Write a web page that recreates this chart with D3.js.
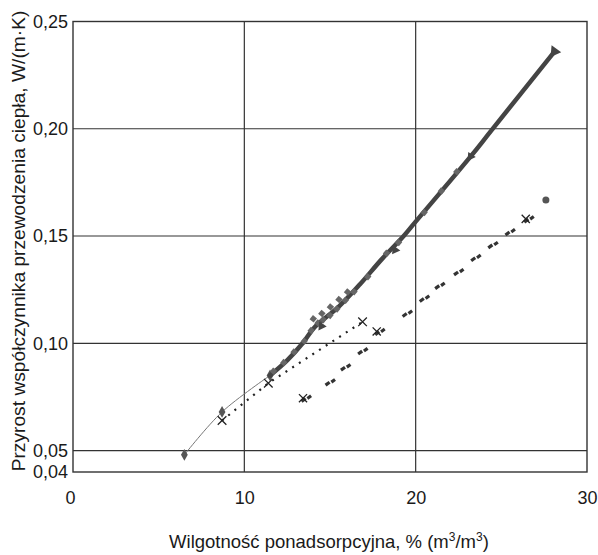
<!DOCTYPE html>
<html>
<head>
  <meta charset="utf-8">
  <title>Przyrost współczynnika przewodzenia ciepła</title>
  <script src="https://d3js.org/d3.v7.min.js"></script>
  <style>
    body { margin: 0; background: #fff; }
    text { font-family: "Liberation Sans", Arial, sans-serif; fill: #1a1a1a; }
  </style>
</head>
<body>
  <svg id="wykres"></svg>

  <script>
    // dane
    const rombyX = [6.5, 8.7, 11.5];
    const rombyY = [0.048, 0.068, 0.085];

    const pasX = [11.5, 12.5, 13.4, 14.1, 15.5, 16.75, 18.0, 19.3, 20.0, 23.2, 24.4, 28.1];
    const pasY = [0.085, 0.092, 0.100, 0.1075, 0.117, 0.1275, 0.139, 0.150, 0.1567, 0.187, 0.199, 0.236];

    const kwadratyX = [11.7, 12.3, 12.9, 13.5, 13.9, 14.3, 14.6, 15.0, 15.4, 15.9, 16.4, 17.2, 18.3, 19.0, 20.5, 21.5, 22.4,
                       14.2, 14.7, 15.2, 15.7, 16.2];
    const kwadratyY = [0.087, 0.091, 0.096, 0.101, 0.106, 0.1095, 0.111, 0.113, 0.116, 0.120, 0.124, 0.131, 0.142, 0.147, 0.161, 0.171, 0.180,
                       0.110, 0.1125, 0.1155, 0.119, 0.1225];

    const trojkatyX = [14.5, 18.8, 23.2, 28.1];
    const trojkatyY = [0.108, 0.1435, 0.187, 0.236];

    const krzyzykiX = [8.7, 11.4, 16.9];
    const krzyzykiY = [0.064, 0.0814, 0.110];

    const kreskiX = [13.6, 15.0, 15.9, 16.9, 17.9, 19.5, 20.5, 21.4, 22.5, 23.5, 24.5, 25.5, 26.6];
    const kreskiY = [0.0744, 0.082, 0.089, 0.0965, 0.1055, 0.114, 0.121, 0.127, 0.1334, 0.140, 0.146, 0.152, 0.158];
    const kreskiKrzyzykX = [13.6, 17.9, 26.6];
    const kreskiKrzyzykY = [0.0744, 0.1055, 0.158];
    const koloX = [27.6];
    const koloY = [0.1668];

    const ticksX = [0, 10, 20, 30];
    const ticksY = [0.04, 0.05, 0.10, 0.15, 0.20, 0.25];
    const siatkaX = [10, 20];
    const siatkaY = [0.05, 0.10, 0.15, 0.20];

    const W = 598, H = 555;
    const svg = d3.select("#wykres").attr("width", W).attr("height", H);

    const x = d3.scaleLinear().domain([0, 30]).range([73, 587]);
    const y = d3.scaleLinear().domain([0.04, 0.25]).range([472, 21.5]);

    const pary = (xs, ys) => xs.map((v, i) => [v, ys[i]]);
    const fmt = d => d3.format(".2f")(d).replace(".", ",");

    // siatka
    svg.append("g").selectAll("line").data(siatkaX).join("line")
      .attr("x1", d => x(d)).attr("x2", d => x(d))
      .attr("y1", y(0.25)).attr("y2", y(0.04))
      .attr("stroke", "#333").attr("stroke-width", 1.2);
    svg.append("g").selectAll("line").data(siatkaY).join("line")
      .attr("x1", x(0)).attr("x2", x(30))
      .attr("y1", d => y(d)).attr("y2", d => y(d))
      .attr("stroke", "#333").attr("stroke-width", 1.2);

    svg.append("rect")
      .attr("x", x(0)).attr("y", y(0.25))
      .attr("width", x(30) - x(0)).attr("height", y(0.04) - y(0.25))
      .attr("fill", "none").attr("stroke", "#333").attr("stroke-width", 1.4);

    // osie
    const osY = svg.append("g").attr("transform", `translate(${x(0)},0)`)
      .call(d3.axisLeft(y).tickValues(ticksY).tickFormat(fmt).tickSize(0).tickPadding(5));
    const osX = svg.append("g").attr("transform", `translate(0,${y(0.04)})`)
      .call(d3.axisBottom(x).tickValues(ticksX).tickFormat(d3.format("d")).tickSize(0).tickPadding(19));
    [osY, osX].forEach(o => {
      o.select(".domain").remove();
      o.selectAll("text").attr("font-size", 18).attr("fill", "#1a1a1a")
        .attr("font-family", "'Liberation Sans', Arial, sans-serif");
    });
    osX.selectAll("text").attr("dx", d => d === 0 ? -3 : 0);

    // tytuły osi
    svg.append("text")
      .attr("x", 329).attr("y", 548)
      .attr("text-anchor", "middle").attr("font-size", 18.5)
      .html('Wilgotność ponadsorpcyjna, % (m<tspan dy="-7" font-size="12">3</tspan><tspan dy="7">/m</tspan><tspan dy="-7" font-size="12">3</tspan><tspan dy="7">)</tspan>');

    svg.append("text")
      .attr("transform", `translate(25,241) rotate(-90)`)
      .attr("text-anchor", "middle").attr("font-size", 19.2)
      .text("Przyrost współczynnika przewodzenia ciepła, W/(m·K)");

    // seria z rombami (cienka linia)
    const linia = d3.line().x(d => x(d[0])).y(d => y(d[1])).curve(d3.curveCatmullRom);
    svg.append("path").datum(pary(rombyX, rombyY))
      .attr("d", linia).attr("fill", "none")
      .attr("stroke", "#777").attr("stroke-width", 1);
    svg.append("g").selectAll("path").data(pary(rombyX, rombyY)).join("path")
      .attr("d", d3.symbol(d3.symbolDiamond, 40))
      .attr("transform", d => `translate(${x(d[0])},${y(d[1])})`)
      .attr("fill", "#555");

    // seria krzyżyków z linią kropkowaną
    svg.append("path").datum(pary(krzyzykiX, krzyzykiY))
      .attr("d", d3.line().x(d => x(d[0])).y(d => y(d[1])))
      .attr("fill", "none").attr("stroke", "#222").attr("stroke-width", 2.2)
      .attr("stroke-dasharray", "2,6");
    svg.append("g").selectAll("path").data(pary(krzyzykiX, krzyzykiY)).join("path")
      .attr("d", d3.symbol(d3.symbolX, 50))
      .attr("transform", d => `translate(${x(d[0])},${y(d[1])})`)
      .attr("fill", "none").attr("stroke", "#222").attr("stroke-width", 1.3);

    // gruby pas głównej serii
    svg.append("path").datum(pary(pasX, pasY))
      .attr("d", d3.line().x(d => x(d[0])).y(d => y(d[1])).curve(d3.curveCatmullRom))
      .attr("fill", "none").attr("stroke", "#444").attr("stroke-width", 4.5)
      .attr("stroke-linecap", "round");
    svg.append("g").selectAll("path").data(pary(kwadratyX, kwadratyY)).join("path")
      .attr("d", d3.symbol(d3.symbolSquare, 28))
      .attr("transform", (d, i) => `translate(${x(d[0]) + (i > 16 ? -3 : 0)},${y(d[1]) + (i > 16 ? -3 : 0)}) rotate(40)`)
      .attr("fill", "#666");
    svg.append("g").selectAll("path").data(pary(trojkatyX, trojkatyY)).join("path")
      .attr("d", (d, i) => d3.symbol(d3.symbolTriangle, i === trojkatyX.length - 1 ? 60 : 36)())
      .attr("transform", d => `translate(${x(d[0])},${y(d[1])}) rotate(-25)`)
      .attr("fill", "#444");

    // dolna seria kreskowa
    const kat = -36;
    const kreski = svg.append("g").selectAll("g").data(pary(kreskiX, kreskiY)).join("g")
      .attr("transform", d => `translate(${x(d[0])},${y(d[1])}) rotate(${kat})`);
    kreski.append("line").attr("x1", -5.5).attr("x2", -0.5).attr("y1", 0).attr("y2", 0)
      .attr("stroke", "#333").attr("stroke-width", 3.2);
    kreski.append("line").attr("x1", 1).attr("x2", 5.5).attr("y1", 1).attr("y2", 1)
      .attr("stroke", "#333").attr("stroke-width", 3.2);
    svg.append("g").selectAll("path").data(pary(kreskiKrzyzykX, kreskiKrzyzykY)).join("path")
      .attr("d", d3.symbol(d3.symbolX, 45))
      .attr("transform", d => `translate(${x(d[0]) - 3},${y(d[1])})`)
      .attr("fill", "none").attr("stroke", "#222").attr("stroke-width", 1.3);
    svg.append("g").selectAll("circle").data(pary(koloX, koloY)).join("circle")
      .attr("cx", d => x(d[0])).attr("cy", d => y(d[1])).attr("r", 3.5)
      .attr("fill", "#555");
  </script>
</body>
</html>
